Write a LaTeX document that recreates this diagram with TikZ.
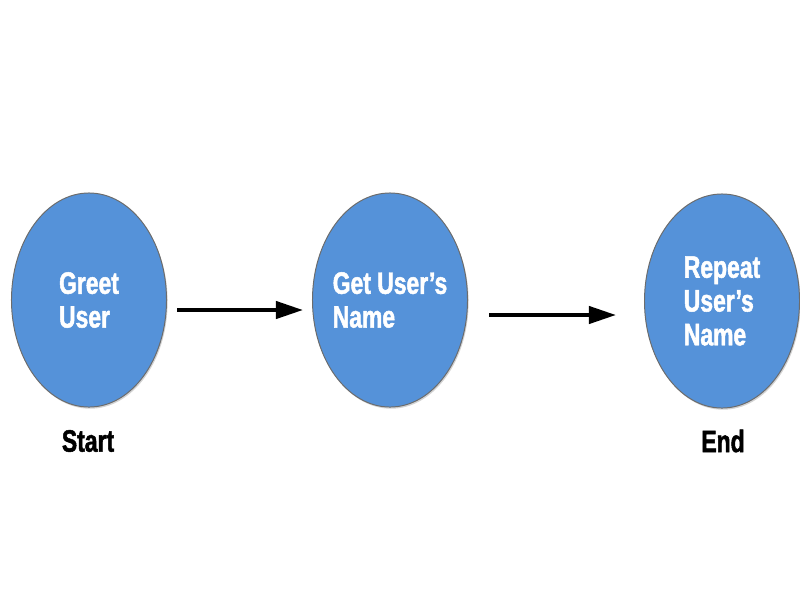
\documentclass[tikz,border=0pt]{standalone}
\usepackage{fontspec}
\newfontfamily\boxfont{Liberation Sans}[FakeStretch=0.74,FakeBold=1.6]
\usetikzlibrary{arrows.meta,shapes,shadows}
\definecolor{bolablue}{RGB}{85,146,217}
\tikzset{
  estado/.style={ellipse, fill=bolablue, draw=gray!85!black, line width=0.7pt,
    minimum width=3.875cm, minimum height=5.35cm, inner sep=-20pt, text=white, align=left,
    font=\boxfont\bfseries\fontsize{22}{24}\selectfont,
    drop shadow={opacity=0.35, shadow xshift=0.8pt, shadow yshift=-1.2pt}},
  etiqueta/.style={font=\boxfont\bfseries\fontsize{22}{24}\selectfont},
  flecha/.style={line width=2.8pt, -{Triangle[length=0.68cm,width=0.43cm]}}
}

\begin{document}
\begin{tikzpicture}[x=0.025cm,y=-0.025cm]
\useasboundingbox (0,0) rectangle (800,600);

% estados
\node[estado] (greet) at (89,300) {Greet\\User};
\node[estado] (getname) at (390,300) {Get User’s\\Name};
\node[estado] (repeatname) at (722,301) {Repeat\\User’s\\Name};

% etiquetas
\node[etiqueta] (startlbl) at (88,441) {Start};
\node[etiqueta] (endlbl) at (723,441) {End};

% flechas
\draw[flecha] ([shift={(10,10)}]greet.east) -- ([shift={(-9,10)}]getname.west);
\draw[flecha] ([shift={(21,15)}]getname.east) -- ([shift={(-28,14)}]repeatname.west);
\end{tikzpicture}
\end{document}
